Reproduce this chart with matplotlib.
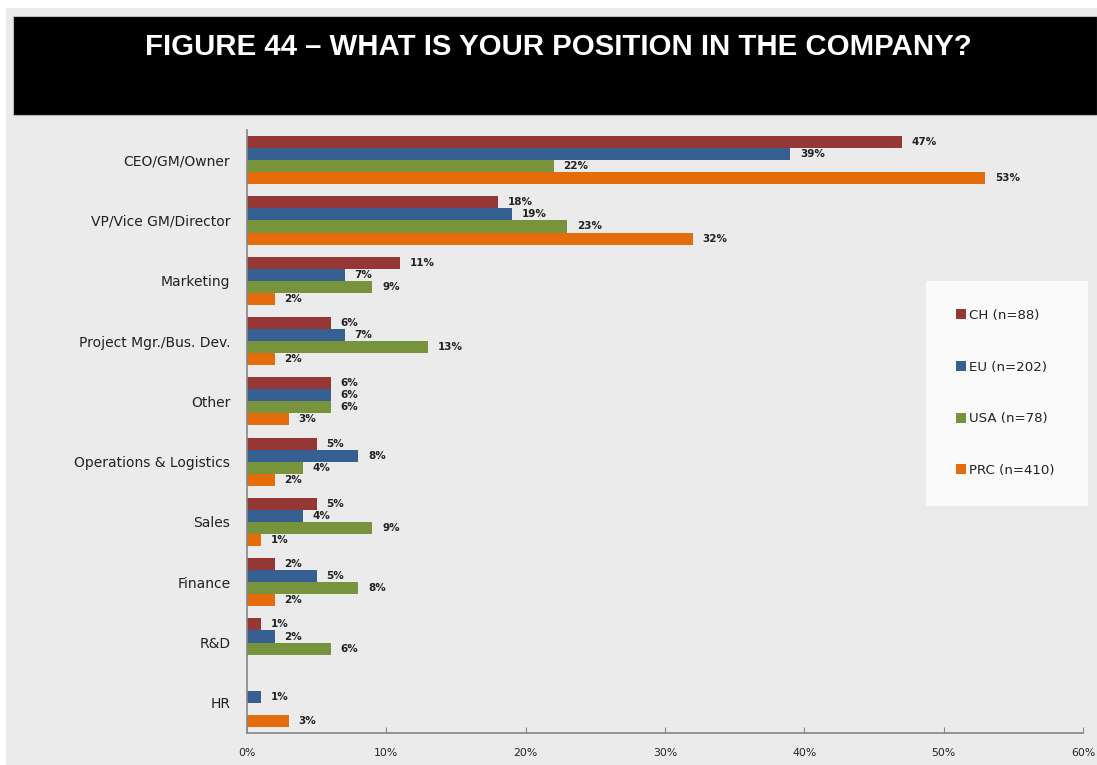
import numpy as np
import matplotlib.pyplot as plt
from matplotlib.patches import Rectangle
from matplotlib.ticker import FuncFormatter

# Survey results, share of respondents per position (%)
positions = ["CEO/GM/Owner", "VP/Vice GM/Director", "Marketing", "Project Mgr./Bus. Dev.",
             "Other", "Operations & Logistics", "Sales", "Finance", "R&D", "HR"]
ch = [47, 18, 11, 6, 6, 5, 5, 2, 1, 0]
eu = [39, 19, 7, 7, 6, 8, 4, 5, 2, 1]
usa = [22, 23, 9, 13, 6, 4, 9, 8, 6, 0]
prc = [53, 32, 2, 2, 3, 2, 1, 2, 0, 3]

series = [("CH (n=88)", ch, "#953735"),
          ("EU (n=202)", eu, "#376092"),
          ("USA (n=78)", usa, "#77933C"),
          ("PRC (n=410)", prc, "#E46C0A")]

W, H = 1097, 765
fig = plt.figure(figsize=(W / 100, H / 100), dpi=100, facecolor="white")

def px(x0, y0, x1, y1):
    # pixel box (top-left origin) -> figure fraction rectangle
    return (x0 / W, 1 - y1 / H), (x1 - x0) / W, (y1 - y0) / H

# grey page panel and black title banner
xy, w, h = px(6, 8, W, H)
fig.patches.append(Rectangle(xy, w, h, transform=fig.transFigure, facecolor="#ebebeb", edgecolor="none", zorder=0))
xy, w, h = px(13, 16, W, 115)
fig.patches.append(Rectangle(xy, w, h, transform=fig.transFigure, facecolor="black", edgecolor="#bbbbbb", lw=0.8, zorder=1))
fig.text(558 / W, 1 - 47 / H, "FIGURE 44 \u2013 WHAT IS YOUR POSITION IN THE COMPANY?",
         ha="center", va="center", color="white", fontsize=21.2, fontweight="bold",
         family="Liberation Sans")

ax = fig.add_axes([247 / W, 1 - 733 / H, (1083 - 247) / W, (733 - 130) / H])
ax.set_facecolor("none")
ax.set_zorder(2)

n = len(positions)
y = np.arange(n)
bh = 0.2
for i, (name, vals, col) in enumerate(series):
    off = (i - 1.5) * bh
    ax.barh(y + off, vals, height=bh, color=col, label=name, edgecolor="none")
    for yy, v in zip(y + off, vals):
        if v > 0:
            ax.text(v + 0.7, yy, f"{v}%", va="center", ha="left", fontsize=7.5,
                    fontweight="bold", color="#222222", family="DejaVu Sans")

ax.set_xlim(0, 60)
ax.set_ylim(n - 0.5, -0.5)
ax.set_xticks(range(0, 61, 10))
ax.xaxis.set_major_formatter(FuncFormatter(lambda v, p: f"{int(v)}%"))
ax.set_yticks(y)
ax.set_yticklabels(positions)
ax.tick_params(axis="y", length=0, pad=12, labelsize=10, labelcolor="#222222")
ax.tick_params(axis="x", direction="in", length=4, color="#868686", pad=11,
               labelsize=7.8, labelcolor="#222222")
for s in ["top", "right"]:
    ax.spines[s].set_visible(False)
for s in ["left", "bottom"]:
    ax.spines[s].set_color("#868686")
    ax.spines[s].set_linewidth(1.2)

# legend inside its own light box
xy, w, h = px(926, 281, 1088, 506)
fig.patches.append(Rectangle(xy, w, h, transform=fig.transFigure, facecolor="#fafafa", edgecolor="none", zorder=1))
leg = fig.legend(loc="center left", bbox_to_anchor=(944 / W, 1 - 393 / H), frameon=False,
                 fontsize=9.6, labelspacing=2.9, handlelength=0.75, handleheight=0.75,
                 handletextpad=0.25, labelcolor="#222222")
leg.set_zorder(3)

fig.savefig("out.png", dpi=100, facecolor="white")
